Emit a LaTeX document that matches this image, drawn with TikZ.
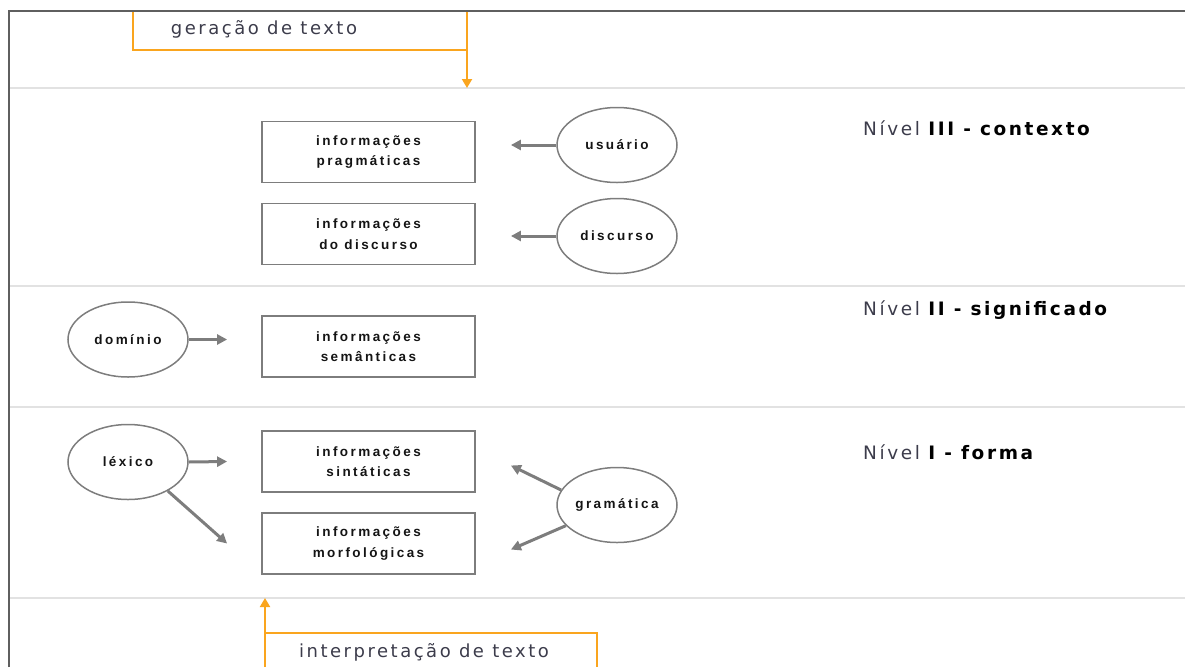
\documentclass[tikz,border=0pt]{standalone}
\usepackage{fontspec}
\usetikzlibrary{arrows.meta,shapes.geometric}
\newfontfamily\boxfont[LetterSpace=18]{Liberation Sans}
\newfontfamily\lblfont[LetterSpace=14]{DejaVu Sans}
\newfontfamily\lvlfont[LetterSpace=14]{DejaVu Sans}
\definecolor{orng}{RGB}{250,165,30}
\definecolor{gline}{RGB}{125,125,125}
\definecolor{sepc}{RGB}{226,226,226}
\definecolor{bordc}{RGB}{95,95,95}
\definecolor{txtc}{RGB}{60,60,75}
\definecolor{boxtxt}{RGB}{20,20,20}
\tikzset{
  infobox/.style={draw=gline, line width=1.8pt, minimum width=213pt, minimum height=61pt, inner sep=0pt,
    align=center, font=\boxfont\bfseries\fontsize{13.5}{20.5}\selectfont, text=boxtxt},
  srcell/.style={ellipse, draw=gline, line width=1.5pt, minimum width=120pt, minimum height=75pt, inner sep=0pt,
    font=\boxfont\bfseries\fontsize{13.5}{20}\selectfont, text=boxtxt},
  garrow/.style={draw=gline, line width=3pt, -{Triangle[length=10pt,width=10pt]}},
  oarrow/.style={draw=orng, line width=2pt, -{Triangle[length=9pt,width=10pt]}},
  oline/.style={draw=orng, line width=2pt},
  lbl/.style={font=\lblfont\fontsize{18}{20}\selectfont, text=txtc, inner sep=0pt},
  lvl/.style={font=\lvlfont\fontsize{18.5}{20}\selectfont, text=txtc, inner sep=0pt, anchor=west}
}
\begin{document}
\begin{tikzpicture}[x=1pt,y=-1pt]
\useasboundingbox (0,0) rectangle (1185,667);
% separators
\foreach \yy in {88,286,407,598} \draw[sepc, line width=2pt] (9,\yy) -- (1185,\yy);
% orange top box
\node[draw=orng, line width=2pt, minimum width=334pt, minimum height=39pt, inner sep=0pt, outer sep=0pt] (gen) at (300,30.5) {};
\node[lbl] (gentxt) at (264,29) {geração de texto};
\coordinate (genend) at (467,88);
\draw[oarrow] (gen.south east) -- (genend);
% orange bottom box
\coordinate (ibl) at (265,667);
\coordinate (itl) at (265,633);
\coordinate (itr) at (597,633);
\coordinate (ibr) at (597,667);
\draw[oline] (ibl) -- (itl) -- (itr) -- (ibr);
\coordinate (intend) at (265,598);
\draw[oarrow] (itl) -- (intend);
\node[lbl] (inttxt) at (424,652) {interpretação de texto};
% border
\draw[bordc, line width=2.8pt] (9,667) -- (9,11) -- (1185,11);
% boxes
\node[infobox] (prag) at (368.5,152) {informações\\pragmáticas};
\node[infobox] (disc) at (368.5,234) {informações\\do discurso};
\node[infobox] (sem) at (368.5,346.5) {informações\\semânticas};
\node[infobox] (sint) at (368.5,461.5) {informações\\sintáticas};
\node[infobox] (morf) at (368.5,543.5) {informações\\morfológicas};
% ellipses
\node[srcell] (usu) at (617,145) {usuário};
\node[srcell] (dis) at (617,236) {discurso};
\node[srcell] (dom) at (128,339.5) {domínio};
\node[srcell] (lex) at (128,462) {léxico};
\node[srcell] (gram) at (617,505) {gramática};
% arrows
\draw[garrow] (usu.west) -- ([xshift=35pt,yshift=7pt]prag.east);
\draw[garrow] (dis.west) -- ([xshift=35pt,yshift=-2pt]disc.east);
\draw[garrow] (dom.east) -- ([xshift=-34pt,yshift=7pt]sem.west);
\draw[garrow] (lex.east) -- ([xshift=-34pt]sint.west);
\draw[garrow] (lex.-36) -- ([xshift=-34pt]morf.west);
\draw[garrow] (gram.165) -- ([xshift=35pt,yshift=-4pt]sint.east);
\draw[garrow] (gram.202) -- ([xshift=35pt,yshift=-6pt]morf.east);
% level labels
\node[lvl] (l3) at (863,128) {Nível \textcolor{black}{\textbf{III - contexto}}};
\node[lvl] (l2) at (863,310) {Nível \textcolor{black}{\textbf{II - significado}}};
\node[lvl] (l1) at (863,452) {Nível \textcolor{black}{\textbf{I - forma}}};
\end{tikzpicture}
\end{document}
